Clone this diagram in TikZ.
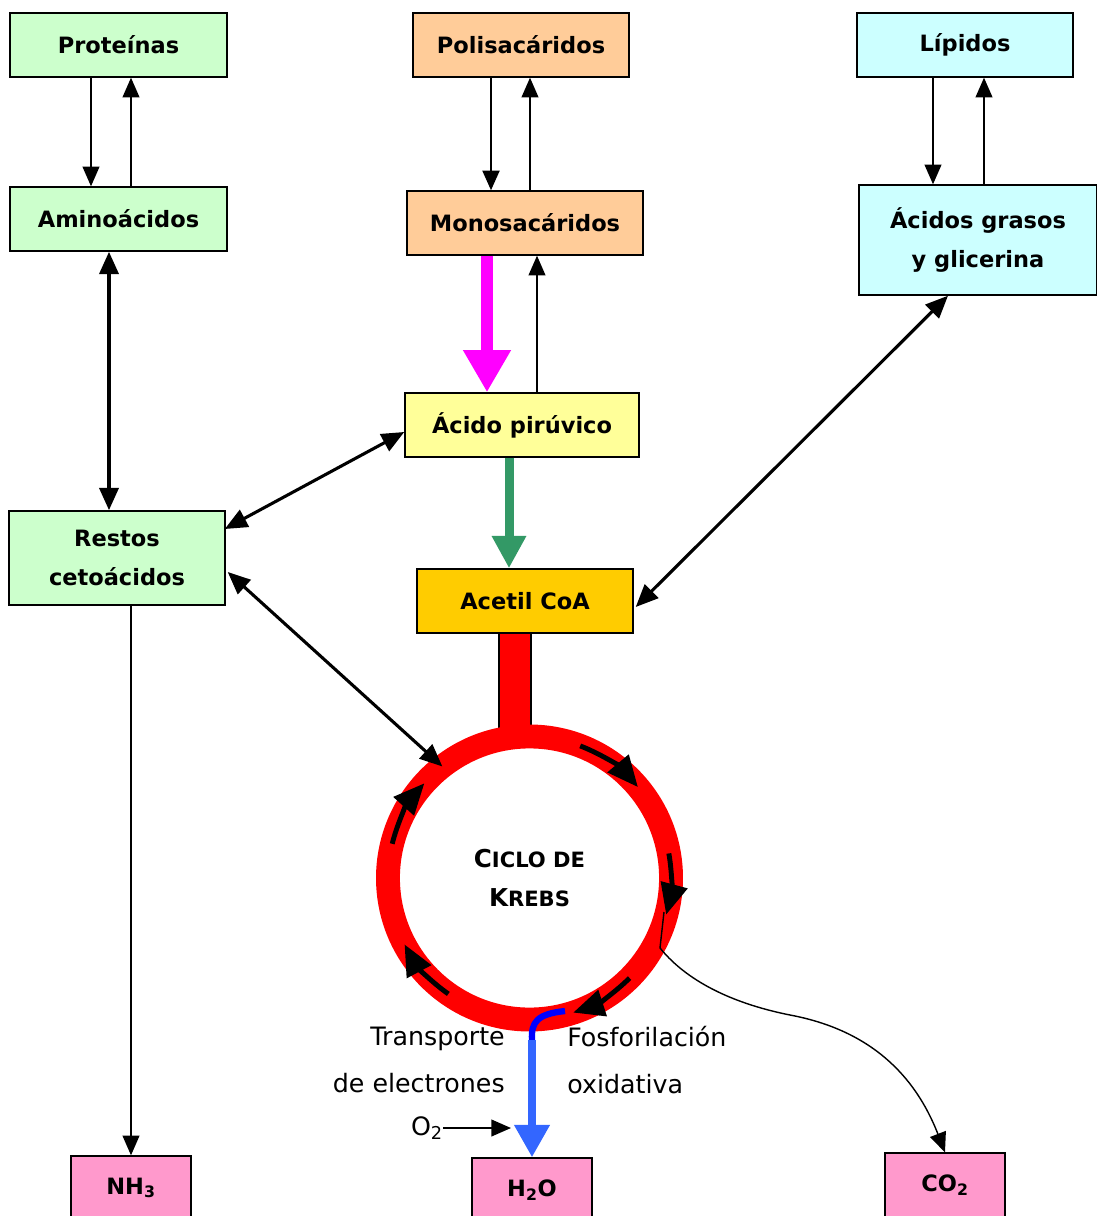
\documentclass[tikz,border=0pt]{standalone}
\usepackage{fontspec}
\setmainfont{DejaVu Sans}
\usetikzlibrary{arrows.meta,calc}

\definecolor{verdeclaro}{HTML}{CCFFCC}
\definecolor{naranja}{HTML}{FFCC99}
\definecolor{celeste}{HTML}{CCFFFF}
\definecolor{amarillo}{HTML}{FFFF99}
\definecolor{oro}{HTML}{FFCC00}
\definecolor{rosa}{HTML}{FF99CC}
\definecolor{fucsia}{HTML}{FF00FF}
\definecolor{verdeoscuro}{HTML}{339966}
\definecolor{azulclaro}{HTML}{3366FF}

\tikzset{
  caja/.style={draw, line width=1pt, inner sep=0pt, align=center,
    minimum height=1.6cm, font=\bfseries\fontsize{16}{28}\selectfont},
  fina/.style={->, line width=1pt, >={Triangle[length=14pt,width=12pt]}},
  doble/.style={<->, line width=2.2pt, >={Triangle[length=16pt,width=13.5pt]}},
  giro/.style={->, line width=3.5pt, >={Triangle[length=22pt,width=19pt]}},
  texto/.style={font=\fontsize{18}{33}\selectfont, inner sep=0pt}
}

\begin{document}
\begin{tikzpicture}[x=0.025cm,y=0.025cm]
        \useasboundingbox (0,0) rectangle (1097,-1216);

        %%%%%%%%%% Caselle %%%%%%%%%%
        \node[caja,fill=verdeclaro,minimum width=5.425cm] (prot) at (118.5,-45) {Proteínas};
        \node[caja,fill=verdeclaro,minimum width=5.425cm] (amino) at (118.5,-219) {Aminoácidos};
        \node[caja,fill=naranja,minimum width=5.4cm] (poli) at (521,-45) {Polisacáridos};
        \node[caja,fill=naranja,minimum width=5.9cm] (mono) at (525,-223) {Monosacáridos};
        \node[caja,fill=celeste,minimum width=5.4cm] (lip) at (965,-45) {Lípidos};
        \node[caja,fill=celeste,minimum width=5.95cm,minimum height=2.75cm] (acidos) at (978,-240) {Ácidos grasos\\y glicerina};
        \node[caja,fill=amarillo,minimum width=5.85cm] (piru) at (522,-425) {Ácido pirúvico};
        \node[caja,fill=verdeclaro,minimum width=5.4cm,minimum height=2.35cm] (restos) at (117,-558) {Restos\\cetoácidos};
        \node[caja,fill=oro,minimum width=5.4cm] (acetil) at (525,-601) {Acetil CoA};
        \node[caja,fill=rosa,minimum width=3cm] (nh3) at (131,-1188) {NH\textsubscript{3}};
        \node[caja,fill=rosa,minimum width=3cm] (h2o) at (532,-1190) {H\textsubscript{2}O};
        \node[caja,fill=rosa,minimum width=3cm] (co2) at (945,-1185) {CO\textsubscript{2}};

        %%%%%%%%%% Ciclo %%%%%%%%%%
        \draw[fill=red,line width=1pt] ($(acetil.south)+(-26,0)$) rectangle ($(acetil.south)+(6,-110)$);
        \node[circle,draw=red,line width=17pt,fill=white,minimum size=7.075cm,inner sep=0pt,
          outer sep=0pt,align=center,font=\bfseries\fontsize{15}{28}\selectfont] (krebs) at (529.5,-878)
          {{\fontsize{17.5}{28}\selectfont C}ICLO DE\\{\fontsize{17.5}{28}\selectfont K}REBS};
        \draw[giro] ($(krebs.center)+(69:141.5)$) arc[start angle=69,end angle=40,radius=141.5];
        \draw[giro] ($(krebs.center)+(10:141.5)$) arc[start angle=10,end angle=-15,radius=141.5];
        \draw[giro] ($(krebs.center)+(-45:141.5)$) arc[start angle=-45,end angle=-72,radius=141.5];
        \draw[giro] ($(krebs.center)+(-125:141.5)$) arc[start angle=-125,end angle=-152,radius=141.5];
        \draw[giro] ($(krebs.center)+(166:141.5)$) arc[start angle=166,end angle=138,radius=141.5];

        %%%%%%%%%% Testi %%%%%%%%%%
        \node[texto,anchor=east,align=right] (transp) at (505,-1060) {Transporte\\de electrones};
        \node[texto,anchor=west,align=left] (fosfo) at (567,-1060) {Fosforilación\\oxidativa};
        \node[texto] (o2) at (427,-1128) {O\textsubscript{2}};
        \coordinate (o2fin) at (511,-1128);
        \coordinate (cadena) at (532,-1040);
        \coordinate (salida) at (664,-912);

        %%%%%%%%% Frecce %%%%%%%%%
        \draw[fina] ($(prot.south)+(-27.5,0)$) -- ($(amino.north)+(-27.5,0)$);
        \draw[fina] ($(amino.north)+(12.5,0)$) -- ($(prot.south)+(12.5,0)$);
        \draw[fina,line width=1.8pt] ($(poli.south)+(-30,0)$) -- ($(mono.north)+(-34,0)$);
        \draw[fina] ($(mono.north)+(5,0)$) -- ($(poli.south)+(9,0)$);
        \draw[fina] ($(lip.south)+(-32,0)$) -- ($(acidos.north)+(-45,0)$);
        \draw[fina] ($(acidos.north)+(6,0)$) -- ($(lip.south)+(19,0)$);
        \draw[fina] ($(piru.north)+(15,0)$) -- ($(mono.south)+(12,0)$);

        \draw[->,fucsia,line width=9pt,>={Triangle[length=30pt,width=32pt]}]
          ($(mono.south)+(-38,0)$) -- ($(piru.north)+(-35,0)$);
        \draw[->,verdeoscuro,line width=6.4pt,>={Triangle[length=23pt,width=23pt]}]
          ($(piru.south)+(-13,0)$) -- ($(acetil.north)+(-16,0)$);

        \draw[doble,line width=2.8pt] ($(amino.south)+(-9.5,0)$) -- ($(restos.north)+(-8,0)$);
        \draw[doble] ($(restos.east)+(-1,29)$) -- ($(piru.west)+(0,-7)$);
        \draw[doble] ($(restos.east)+(2,-14)$) -- (krebs.128);
        \draw[doble] ($(acidos.south)+(-30,0)$) -- ($(acetil.east)+(2,-6)$);

        \draw[fina] ($(restos.south)+(14,0)$) -- (nh3.north);
        \draw[fina] (o2) -- (o2fin);
        \draw[fina] (salida) -- (660,-948) .. controls (690,-985) and (740,-1005) .. (790,-1015)
          .. controls (870,-1030) and (915,-1075) .. (co2.north);

        \draw[blue,line width=4.5pt] (565,-1011) .. controls (537,-1014) and (531,-1022) .. (cadena);
        \draw[->,azulclaro,line width=5.5pt,>={Triangle[length=23pt,width=24pt]}] (cadena) -- (h2o.north);
    \end{tikzpicture}
\end{document}
